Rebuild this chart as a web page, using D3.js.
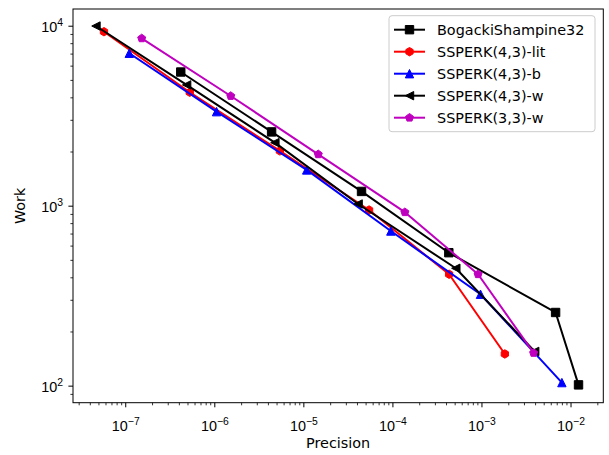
<!DOCTYPE html>
<html>
<head>
<meta charset="utf-8">
<script src="https://cdn.jsdelivr.net/npm/d3@7"></script>
<style>
  html, body { margin: 0; padding: 0; background: #fff; }
  svg { display: block; font-family: "DejaVu Sans", sans-serif; }
</style>
</head>
<body>
<svg id="chart" width="609" height="455"></svg>
<script>
// Work–precision data for each time-stepping method
const seriesNames = ["BogackiShampine32", "SSPERK(4,3)-lit", "SSPERK(4,3)-b", "SSPERK(4,3)-w", "SSPERK(3,3)-w"];

const precisionBS32 = [4.2e-7, 4.4e-6, 4.5e-5, 4.3e-4, 6.8e-3, 1.23e-2];
const workBS32      = [5530, 2570, 1200, 548, 255, 101];

const precisionLit = [5.77e-8, 5.3e-7, 5.45e-6, 5.47e-5, 4.33e-4, 1.83e-3];
const workLit      = [9260, 4270, 2015, 946, 416, 150];

const precisionB = [1.11e-7, 1.06e-6, 1.09e-5, 9.6e-5, 9.75e-4, 8.0e-3];
const workB      = [7030, 3330, 1580, 723, 322, 104];

const precisionW43 = [4.69e-8, 4.89e-7, 4.79e-6, 4.12e-5, 5.15e-4, 3.96e-3];
const workW43      = [9960, 4690, 2240, 1022, 449, 155];

const precisionW33 = [1.53e-7, 1.53e-6, 1.47e-5, 1.38e-4, 9.16e-4, 3.85e-3];
const workW33      = [8510, 4070, 1930, 920, 416, 152];

const xTickExponents = [-7, -6, -5, -4, -3, -2];
const yTickExponents = [2, 3, 4];

const xLimits = [2.59e-8, 2.334e-2];
const yLimits = [80.4, 12385];

const seriesColors  = ["#000000", "#ff0000", "#0000ff", "#000000", "#bf00bf"];
const seriesMarkers = ["square", "hexagon", "triangleUp", "triangleLeft", "pentagon"];

const seriesData = [
  [precisionBS32, workBS32],
  [precisionLit, workLit],
  [precisionB, workB],
  [precisionW43, workW43],
  [precisionW33, workW33]
];

const series = seriesNames.map((name, i) => {
  const [px, wy] = seriesData[i];
  return {
    name,
    color: seriesColors[i],
    marker: seriesMarkers[i],
    points: px.map((p, j) => ({x: p, y: wy[j]}))
  };
});

// Layout
const W = 609, H = 455;
const margin = {left: 73, top: 9, right: W - 603.3, bottom: H - 402.7};
const plotW = W - margin.left - margin.right;
const plotH = H - margin.top - margin.bottom;

const svg = d3.select("#chart");
svg.append("rect").attr("width", W).attr("height", H).attr("fill", "#fff");

const g = svg.append("g").attr("transform", `translate(${margin.left},${margin.top})`);

const x = d3.scaleLog().domain(xLimits).range([0, plotW]);
const y = d3.scaleLog().domain(yLimits).range([plotH, 0]);

const FONT = 14.4;
const SUP = FONT * 0.72;
const MS = 8.4;     // marker size in px
const LW = 2;       // line width

// Minor tick positions within the limits
function minorTicks(domain) {
  const out = [];
  const lo = Math.floor(Math.log10(domain[0])), hi = Math.ceil(Math.log10(domain[1]));
  for (let e = lo; e <= hi; e++) {
    for (let m = 2; m <= 9; m++) {
      const v = m * Math.pow(10, e);
      if (v >= domain[0] && v <= domain[1]) out.push(v);
    }
  }
  return out;
}

// Axes: minor ticks
g.append("g")
  .attr("transform", `translate(0,${plotH})`)
  .call(d3.axisBottom(x).tickValues(minorTicks(xLimits)).tickSize(2.6).tickFormat(""))
  .call(s => s.select(".domain").remove())
  .call(s => s.selectAll("line").attr("stroke", "#000").attr("stroke-width", 0.8));

g.append("g")
  .call(d3.axisLeft(y).tickValues(minorTicks(yLimits)).tickSize(2.6).tickFormat(""))
  .call(s => s.select(".domain").remove())
  .call(s => s.selectAll("line").attr("stroke", "#000").attr("stroke-width", 0.8));

// Axes: major ticks with power-of-ten labels
const xAxis = g.append("g")
  .attr("transform", `translate(0,${plotH})`)
  .call(d3.axisBottom(x).tickValues(xTickExponents.map(e => Math.pow(10, e))).tickSize(4.6).tickFormat(""));
xAxis.select(".domain").remove();
xAxis.selectAll("line").attr("stroke", "#000").attr("stroke-width", 1);
xAxis.selectAll(".tick").each(function(d, i) {
  const t = d3.select(this).append("text")
    .attr("fill", "#000").attr("y", 28).attr("text-anchor", "middle")
    .style("font-size", FONT + "px");
  t.append("tspan").text("10");
  t.append("tspan").attr("dy", -6).style("font-size", SUP + "px")
    .text("\u2212" + Math.abs(xTickExponents[i]));
});

const yAxis = g.append("g")
  .call(d3.axisLeft(y).tickValues(yTickExponents.map(e => Math.pow(10, e))).tickSize(4.6).tickFormat(""));
yAxis.select(".domain").remove();
yAxis.selectAll("line").attr("stroke", "#000").attr("stroke-width", 1);
yAxis.selectAll(".tick").each(function(d, i) {
  const t = d3.select(this).append("text")
    .attr("fill", "#000").attr("x", -10).attr("y", 6).attr("text-anchor", "end")
    .style("font-size", FONT + "px");
  t.append("tspan").text("10");
  t.append("tspan").attr("dy", -6).style("font-size", SUP + "px")
    .text(String(yTickExponents[i]));
});

// Marker shapes (centered on the origin)
function markerPath(kind, s) {
  const r = s / 2;
  const poly = (n, rot) => d3.range(n).map(k => {
    const a = rot + k * 2 * Math.PI / n;
    return [r * Math.sin(a), -r * Math.cos(a)];
  });
  let pts;
  switch (kind) {
    case "square": pts = [[-r, -r], [r, -r], [r, r], [-r, r]]; break;
    case "triangleUp": pts = [[0, -r], [r, r], [-r, r]]; break;
    case "triangleLeft": pts = [[-r, 0], [r, -r], [r, r]]; break;
    case "pentagon": pts = poly(5, 0); break;
    case "hexagon": pts = poly(6, 0); break;
  }
  return "M" + pts.map(p => p.join(",")).join("L") + "Z";
}

// Series lines and markers
const plot = g.append("g");
const line = d3.line().x(d => x(d.x)).y(d => y(d.y));
series.forEach(s => {
  const sg = plot.append("g");
  sg.append("path").datum(s.points)
    .attr("d", line).attr("fill", "none")
    .attr("stroke", s.color).attr("stroke-width", LW).attr("stroke-linejoin", "round");
  sg.selectAll("path.mk").data(s.points).enter().append("path")
    .attr("class", "mk")
    .attr("transform", d => `translate(${x(d.x)},${y(d.y)})`)
    .attr("d", markerPath(s.marker, MS))
    .attr("fill", s.color).attr("stroke", s.color).attr("stroke-width", 1);
});

// Frame
g.append("rect").attr("width", plotW).attr("height", plotH)
  .attr("fill", "none").attr("stroke", "#000").attr("stroke-width", 1);

// Axis titles
svg.append("text").attr("x", margin.left + plotW / 2).attr("y", 448)
  .attr("text-anchor", "middle").style("font-size", FONT + "px").attr("fill", "#000")
  .text("Precision");
svg.append("text").attr("transform", `translate(25,${margin.top + plotH / 2}) rotate(-90)`)
  .attr("text-anchor", "middle").style("font-size", FONT + "px").attr("fill", "#000")
  .text("Work");

// Legend
const legend = svg.append("g").attr("transform", "translate(389,15.7)");
legend.append("rect").attr("width", 206).attr("height", 116).attr("rx", 3)
  .attr("fill", "#fff").attr("fill-opacity", 0.8)
  .attr("stroke", "#cccccc").attr("stroke-width", 1);
series.forEach((s, i) => {
  const row = legend.append("g").attr("transform", `translate(0,${14 + i * 22})`);
  row.append("line").attr("x1", 5).attr("x2", 36)
    .attr("stroke", s.color).attr("stroke-width", LW);
  row.append("path").attr("transform", "translate(20.5,0)")
    .attr("d", markerPath(s.marker, MS))
    .attr("fill", s.color).attr("stroke", s.color).attr("stroke-width", 1);
  row.append("text").attr("x", 48).attr("y", 5)
    .style("font-size", FONT + "px").attr("fill", "#000").text(s.name);
});
</script>
</body>
</html>
